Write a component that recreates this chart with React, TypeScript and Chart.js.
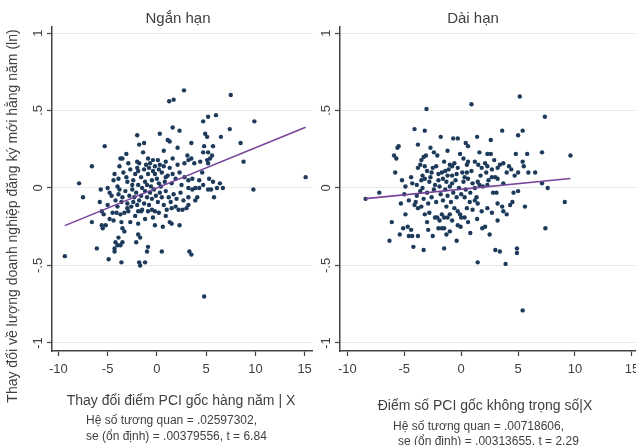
import React, { useEffect, useRef } from "react";
import { Chart, registerables } from "chart.js";
Chart.register(...registerables);

const xTicks = [-10, -5, 0, 5, 10, 15];
const yTicks = [-1, -0.5, 0, 0.5, 1];

const panelTitles = ["Ngắn hạn", "Dài hạn"];
const yAxisTitle = "Thay đổi về lượng doanh nghiệp đăng ký mới hằng năm (ln)";
const xAxisTitles = ["Thay đổi điểm PCI gốc hàng năm | X", "Điểm số PCI gốc không trọng số|X"];
const shortRunNotes = ["Hệ số tương quan = .02597302,", "se (ổn định) = .00379556, t = 6.84"];
const longRunNotes = ["Hệ số tương quan = .00718606,", "se (ổn định) = .00313655, t = 2.29"];

const shortRunFit = { intercept: 0.0, slope: 0.02597302 };
const longRunFit = { intercept: -0.008, slope: 0.00718606 };

const shortRunPoints: [number, number][] = [
  [2.75,0.63],[1.25,0.56],[1.7,0.57],[7.5,0.60],[5.2,0.46],[6.0,0.47],[9.9,0.43],[4.7,0.43],[7.4,0.38],[1.6,0.39],
  [2.3,0.37],[0.3,0.35],[-2.0,0.34],[4.9,0.35],[5.1,0.33],[6.5,0.33],[8.5,0.29],[3.5,0.29],[-5.3,0.27],[-1.8,0.28],
  [-1.3,0.29],[1.1,0.31],[1.3,0.30],[2.1,0.26],[4.8,0.27],[5.7,0.27],[0.7,0.24],[-3.1,0.22],[-1.4,0.23],[4.7,0.23],
  [5.2,0.23],[5.6,0.21],[3.1,0.21],[8.8,0.17],[-6.6,0.14],[-3.7,0.19],[-3.5,0.19],[-3.8,0.14],[-2.0,0.17],[-1.8,0.16],
  [3.8,0.16],[4.4,0.17],[5.1,0.18],[4.6,0.10],[5.3,0.06],[5.7,0.04],[6.4,0.03],[-7.9,0.03],[-7.5,-0.06],[-5.7,-0.01],
  [-4.4,0.05],[-3.0,0.04],[9.8,-0.01],[15.1,0.07],[6.7,0.0],[6.1,0.0],[5.5,-0.01],[4.3,0.0],[4.7,0.02],[5.8,-0.06],
  [-9.35,-0.44],[-6.1,-0.39],[-6.6,-0.22],[-5.6,-0.24],[-5.5,-0.26],[-5.2,-0.24],[-4.9,-0.46],[-4.3,-0.39],[-4.3,-0.41],[-4.2,-0.35],
  [-3.9,-0.32],[-4.0,-0.37],[-3.6,-0.48],[-3.5,-0.35],[-3.7,-0.37],[-3.5,-0.26],[-3.3,-0.28],[-2.7,-0.22],[-1.9,-0.23],[-2.1,-0.35],
  [-1.9,-0.30],[-1.7,-0.32],[-1.8,-0.48],[-1.7,-0.50],[-1.2,-0.48],[-0.9,-0.38],[-1.0,-0.41],[-0.2,-0.24],[0.6,-0.25],[0.5,-0.41],
  [1.3,-0.22],[1.5,-0.23],[2.3,-0.24],[3.3,-0.41],[3.5,-0.43],[4.8,-0.70],
  [-5.8,-0.09],[-5.0,-0.11],[-5.6,-0.15],[-5.4,-0.17],[-4.8,-0.20],[-4.4,-0.21],[-4.5,-0.16],[-4.1,-0.16],[-3.7,-0.17],[-3.3,-0.16],
  [-2.9,-0.15],[-1.9,-0.15],[-1.6,-0.15],[-1.5,-0.14],[-3.6,-0.09],[-3.0,-0.10],[-2.4,-0.09],[-0.5,-0.14],[-0.2,-0.15],[1.0,-0.14],
  [1.5,-0.13],[1.9,-0.12],[2.2,-0.14],[2.6,-0.14],
  [-2.0,0.13],[-1.9,0.11],[-5.0,0.0],[-4.8,-0.03],[-4.0,0.01],[-3.8,-0.01],[-2.5,-0.01],[-1.9,0.02],[-1.5,0.0],
  [-0.7,0.16],[-0.4,0.18],[-0.2,0.14],[0.3,0.15],[-0.9,0.09],[-0.2,0.09],[0.5,0.10],[1.1,0.08],[1.6,0.09],[2.3,0.10],
  [-1.2,0.04],[-0.5,0.05],[0.2,0.03],[0.8,0.04],
  [5.2,0.16],[5.4,0.19],[3.5,0.19],[3.2,0.18],[2.8,0.16],[2.8,0.07],[3.2,0.05],[3.6,0.06],[4.3,0.05],[5.2,-0.01],
  [3.2,0.0],[3.6,-0.01],[3.9,0.0],[4.1,-0.06],[3.2,-0.06],[3.9,-0.08],[3.2,-0.11],[3.0,-0.13],
  [-4.6,-0.05],[-4.2,-0.08],[-3.9,-0.04],[-3.5,-0.06],[-3.2,-0.02],[-2.8,-0.05],[-2.6,-0.12],[-2.3,-0.06],[-2.1,-0.03],[-1.8,-0.08],
  [-1.6,-0.05],[-1.3,-0.10],[-1.2,-0.02],[-1.0,-0.06],[-0.8,-0.11],[-0.7,-0.03],[-0.5,-0.07],[-0.3,-0.01],[-0.1,-0.05],[0.1,-0.09],
  [0.3,-0.03],[0.5,-0.06],[0.7,-0.11],[0.9,-0.02],[1.2,-0.06],[1.4,-0.09],[1.7,-0.04],[2.0,-0.07],[2.4,-0.03],[2.7,-0.08],
  [-4.3,0.09],[-3.9,0.06],[-3.4,0.10],[-3.1,0.07],[-2.7,0.12],[-2.4,0.05],[-2.2,0.09],[-1.6,0.07],[-1.3,0.12],[-1.0,0.02],
  [-0.8,0.13],[-0.6,0.01],[-0.4,0.11],[0.0,0.06],[0.2,0.12],[0.4,0.01],[0.7,0.14],[0.9,0.07],[1.3,0.13],[1.5,0.03],
  [1.9,0.06],[2.1,0.15],[2.5,0.02],[-2.9,0.16],[-2.5,0.02],[-0.9,0.19],[0.1,0.18],[0.9,0.17],[1.6,0.19],[-1.1,0.15],
  [-4.0,-0.12],[-3.0,-0.13],[-2.0,-0.11],[-0.9,-0.15],[0.2,-0.16],[0.9,-0.18],[-0.4,-0.19],[-2.2,-0.18],[-3.6,-0.22],[-1.2,-0.20],
];

const longRunPoints: [number, number][] = [
  [5.15,0.59],[0.9,0.54],[-3.05,0.51],[7.35,0.46],[-4.1,0.38],[-3.2,0.37],[3.6,0.37],[5.4,0.37],[5.0,0.34],[-1.8,0.33],
  [-0.7,0.32],[-0.3,0.32],[1.4,0.33],[2.6,0.31],[-5.5,0.27],[-5.6,0.26],[-3.8,0.28],[-2.7,0.26],[0.4,0.29],[0.6,0.27],
  [-5.9,0.21],[-5.7,0.19],[-3.1,0.21],[-3.3,0.20],[-2.4,0.23],[-2.1,0.21],[1.6,0.23],[2.3,0.22],[2.6,0.22],[4.8,0.22],
  [5.8,0.22],[7.1,0.23],[9.6,0.21],[5.4,0.17],[0.2,0.19],[0.6,0.17],[-5.8,0.10],[-4.3,0.03],[-4.9,0.01],[-7.2,-0.03],
  [9.1,-0.09],[7.6,0.0],[7.1,0.03],[5.6,-0.12],[4.6,-0.03],[5.0,-0.02],[3.7,0.03],[3.2,0.13],[3.0,0.07],[5.9,0.10],
  [6.5,0.10],[-8.4,-0.07],
  [-3.8,0.13],[-3.6,0.15],[-3.2,0.14],[-3.0,0.11],[-3.4,0.08],[-2.6,0.10],[-2.5,0.13],[-2.2,0.14],[-1.5,0.17],[-1.0,0.15],
  [-0.8,0.14],[-0.6,0.16],[-0.3,0.13],[-1.7,0.10],[-1.4,0.11],[-1.2,0.08],[-0.8,0.08],[-1.6,0.06],[-1.3,0.04],[-0.8,0.03],
  [0.1,0.10],[0.5,0.10],[-3.9,0.02],[-3.4,0.0],[-3.2,0.06],[-3.5,0.05],[-2.3,0.02],[-1.9,0.01],
  [3.7,0.16],[3.4,0.15],[4.2,0.14],[4.4,0.12],[4.0,0.10],[5.0,0.10],[4.7,0.08],[5.5,0.14],[2.1,0.16],[2.3,0.14],
  [2.7,0.12],[2.2,0.10],[1.8,0.13],[1.2,0.17],[1.5,0.15],[0.5,0.15],[2.7,0.07],[3.2,0.06],[1.45,0.04],[1.6,0.02],
  [1.2,0.0],[1.9,0.01],[2.3,0.02],[2.8,-0.03],[3.1,-0.03],
  [-5.3,-0.10],[-6.1,-0.22],[-4.9,-0.17],[-5.1,-0.26],[-4.7,-0.25],[-4.4,-0.27],[-5.4,-0.30],[-4.6,-0.31],[-4.3,-0.31],[-3.8,-0.31],
  [-6.3,-0.34],[-4.2,-0.38],[-3.3,-0.40],[-1.5,-0.39],[-3.0,-0.22],[-2.9,-0.27],[-2.0,-0.26],[-1.7,-0.26],[-1.5,-0.26],[-2.1,-0.19],
  [-1.9,-0.21],[-1.3,-0.30],[-3.2,-0.17],[-2.8,-0.16],[-2.3,-0.19],[-4.1,-0.11],[-3.8,-0.13],[-3.5,-0.12],[-4.0,-0.09],[-1.7,-0.17],
  [-1.5,-0.19],[-1.2,-0.19],[-1.0,-0.17],[-0.6,-0.13],[-0.3,-0.15],[-0.1,-0.17],[0.0,-0.19],[0.3,-0.19],[-0.3,-0.24],[-0.05,-0.25],
  [-0.4,-0.34],
  [7.4,-0.26],[4.3,-0.11],[4.5,-0.09],[3.2,-0.10],[3.6,-0.12],[3.7,-0.15],[4.0,-0.17],[2.7,-0.16],[2.3,-0.13],[1.8,-0.15],
  [3.2,-0.21],[1.4,-0.20],[2.1,-0.25],[1.85,-0.26],[0.8,-0.29],[3.0,-0.40],[3.4,-0.41],[4.9,-0.39],[4.9,-0.42],[1.45,-0.48],
  [3.9,-0.49],[5.4,-0.79],[0.3,-0.06],[0.75,-0.09],[1.2,-0.08],[1.45,-0.10],[1.35,-0.06],
  [-3.9,-0.05],[-3.6,-0.02],[-3.3,-0.07],[-3.0,-0.03],[-2.8,0.04],[-2.6,-0.06],[-2.4,-0.01],[-2.2,-0.09],[-2.0,0.05],[-1.8,-0.04],
  [-1.6,-0.08],[-1.4,-0.01],[-1.2,-0.05],[-1.0,0.01],[-0.9,-0.09],[-0.7,-0.03],[-0.5,0.05],[-0.4,-0.06],[-0.2,0.0],[0.0,-0.04],
  [0.2,0.04],[0.4,-0.01],[0.6,0.06],[0.8,-0.03],[1.0,0.03],[-2.7,0.07],[-2.0,0.09],[-1.1,0.12],[-0.4,0.09],[0.3,0.07],
  [0.9,0.11],[1.7,0.08],[2.4,0.05],[-2.9,-0.10],[-1.3,-0.12],[0.5,-0.13],[1.0,-0.14],[-0.8,-0.21],[0.6,-0.22],[-2.5,-0.31],
  [-1.0,-0.28],[2.5,-0.30],[-4.6,-0.08],[-5.0,-0.04],[-4.4,0.07],[-5.2,0.05],[-3.5,0.18],[-1.2,0.24],[2.9,0.18],[-0.1,0.22],
];

const FONT = '"Liberation Sans", Arial, sans-serif';
const TEXT = "#3f3f3f";
const AXIS = "#444444";
const GRID = "#e8e8e8";
const MARKER = "#1d3a5a";
const FITLINE = "#76449a";

type TextItem = { text: string; x: number; y: number; size: number; align: CanvasTextAlign; rotate?: boolean };

function fmtY(v: number): string {
  if (v === 0) return "0";
  const s = String(Math.abs(v)).replace(/^0\./, ".");
  return (v < 0 ? "-" : "") + s;
}

function Panel(props: {
  points: [number, number][];
  fit: { intercept: number; slope: number };
  texts: TextItem[];
  left: number;
  width: number;
  padding: { left: number; right: number; top: number; bottom: number };
}) {
  const ref = useRef<HTMLCanvasElement | null>(null);
  useEffect(() => {
    if (!ref.current) return;
    const xs = props.points.map((p) => p[0]);
    const xMin = Math.min(...xs);
    const xMax = Math.max(...xs);
    const textPlugin = {
      id: "panelTexts",
      afterDraw(chart: any) {
        const ctx = chart.ctx as CanvasRenderingContext2D;
        ctx.save();
        ctx.fillStyle = TEXT;
        const ys = chart.scales.y;
        ctx.font = `13px ${FONT}`;
        ctx.textAlign = "center";
        ctx.textBaseline = "middle";
        ys.ticks.forEach((t: any) => {
          const py = ys.getPixelForValue(t.value);
          ctx.save();
          ctx.translate(chart.chartArea.left - 13.5, py);
          ctx.rotate(-Math.PI / 2);
          ctx.fillText(fmtY(t.value), 0, 0);
          ctx.restore();
        });
        props.texts.forEach((it) => {
          ctx.font = `${it.size}px ${FONT}`;
          ctx.textAlign = it.align;
          ctx.textBaseline = "middle";
          if (it.rotate) {
            ctx.save();
            ctx.translate(it.x, it.y);
            ctx.rotate(-Math.PI / 2);
            ctx.fillText(it.text, 0, 0);
            ctx.restore();
          } else {
            ctx.fillText(it.text, it.x, it.y);
          }
        });
        ctx.restore();
      },
    };
    const chart = new Chart(ref.current, {
      type: "scatter",
      data: {
        datasets: [
          {
            type: "line",
            data: [
              { x: xMin, y: props.fit.intercept + props.fit.slope * xMin },
              { x: xMax, y: props.fit.intercept + props.fit.slope * xMax },
            ],
            borderColor: FITLINE,
            borderWidth: 1.6,
            pointRadius: 0,
            fill: false,
            order: 0,
          } as any,
          {
            data: props.points.map((p) => ({ x: p[0], y: p[1] })),
            backgroundColor: MARKER,
            borderColor: MARKER,
            borderWidth: 0,
            pointRadius: 2.2,
            order: 1,
          },
        ],
      },
      options: {
        responsive: false,
        animation: false,
        layout: { padding: props.padding },
        plugins: { legend: { display: false }, tooltip: { enabled: false }, title: { display: false } },
        scales: {
          x: {
            type: "linear",
            min: -10.65,
            max: 15.8,
            afterBuildTicks: (s: any) => {
              s.ticks = xTicks.map((v) => ({ value: v }));
            },
            afterFit: (s: any) => {
              s.height = 40;
            },
            ticks: {
              font: { family: FONT, size: 13 },
              color: TEXT,
              padding: 6,
              maxRotation: 0,
              callback: (v: any) => String(v),
            },
            grid: { drawOnChartArea: false, drawTicks: true, tickLength: 5, tickColor: AXIS, tickWidth: 1.2 },
            border: { display: true, color: AXIS, width: 1.5 },
          },
          y: {
            type: "linear",
            min: -1.052,
            max: 1.039,
            afterBuildTicks: (s: any) => {
              s.ticks = yTicks.map((v) => ({ value: v }));
            },
            afterFit: (s: any) => {
              s.width = 10;
            },
            ticks: { display: false },
            grid: { color: GRID, lineWidth: 1, drawTicks: true, tickLength: 5, tickColor: AXIS, tickWidth: 1.2 },
            border: { display: true, color: AXIS, width: 1.5 },
          },
        },
      },
      plugins: [textPlugin],
    });
    return () => chart.destroy();
  }, []);
  return (
    <canvas
      ref={ref}
      width={props.width}
      height={445}
      style={{ position: "absolute", left: props.left, top: 0, width: props.width, height: 445 }}
    />
  );
}

export default function App() {
  const leftTexts: TextItem[] = [
    { text: panelTitles[0], x: 178, y: 19, size: 15, align: "center" },
    { text: yAxisTitle, x: 13, y: 216, size: 14, align: "center", rotate: true },
    { text: xAxisTitles[0], x: 181, y: 401, size: 14, align: "center" },
    { text: shortRunNotes[0], x: 86, y: 421, size: 12, align: "left" },
    { text: shortRunNotes[1], x: 86, y: 437, size: 12, align: "left" },
  ];
  const rightTexts: TextItem[] = [
    { text: panelTitles[1], x: 157, y: 19, size: 15, align: "center" },
    { text: xAxisTitles[1], x: 169, y: 406, size: 14, align: "center" },
    { text: longRunNotes[0], x: 77, y: 427, size: 12, align: "left" },
    { text: longRunNotes[1], x: 82, y: 442, size: 12, align: "left" },
  ];
  return (
    <div style={{ position: "fixed", left: 0, top: 0, width: 636, height: 445, overflow: "hidden", background: "#ffffff" }}>
      <Panel
        points={shortRunPoints}
        fit={shortRunFit}
        texts={leftTexts}
        left={0}
        width={318}
        padding={{ left: 42, right: 5, top: 27, bottom: 54 }}
      />
      <Panel
        points={longRunPoints}
        fit={longRunFit}
        texts={rightTexts}
        left={316}
        width={330}
        padding={{ left: 14, right: 5, top: 27, bottom: 54 }}
      />
    </div>
  );
}
